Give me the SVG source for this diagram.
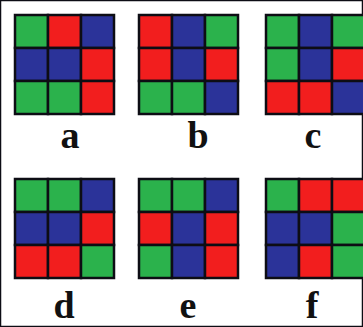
<svg xmlns="http://www.w3.org/2000/svg" width="363" height="327" viewBox="0 0 363 327">
<style>
.g{fill:#2bb24c}.r{fill:#f21e1e}.b{fill:#2b3399}
rect{stroke:#0d0d14;stroke-width:2.5}
text{font-family:"Liberation Serif","Times New Roman",serif;font-weight:bold;font-size:38px;fill:#111;text-anchor:middle}
</style>
<rect width="363" height="327" fill="#fff" stroke="none"/>
<g id="grid-a" transform="translate(15,15)">
<rect class="g" x="0" y="0" width="33" height="33"/><rect class="r" x="33" y="0" width="33" height="33"/><rect class="b" x="66" y="0" width="33" height="33"/>
<rect class="b" x="0" y="33" width="33" height="33"/><rect class="b" x="33" y="33" width="33" height="33"/><rect class="r" x="66" y="33" width="33" height="33"/>
<rect class="g" x="0" y="66" width="33" height="33"/><rect class="g" x="33" y="66" width="33" height="33"/><rect class="r" x="66" y="66" width="33" height="33"/>
</g>
<g id="grid-b" transform="translate(139,15)">
<rect class="r" x="0" y="0" width="33" height="33"/><rect class="b" x="33" y="0" width="33" height="33"/><rect class="g" x="66" y="0" width="33" height="33"/>
<rect class="r" x="0" y="33" width="33" height="33"/><rect class="b" x="33" y="33" width="33" height="33"/><rect class="r" x="66" y="33" width="33" height="33"/>
<rect class="g" x="0" y="66" width="33" height="33"/><rect class="g" x="33" y="66" width="33" height="33"/><rect class="b" x="66" y="66" width="33" height="33"/>
</g>
<g id="grid-c" transform="translate(266,15)">
<rect class="g" x="0" y="0" width="33" height="33"/><rect class="b" x="33" y="0" width="33" height="33"/><rect class="g" x="66" y="0" width="33" height="33"/>
<rect class="g" x="0" y="33" width="33" height="33"/><rect class="b" x="33" y="33" width="33" height="33"/><rect class="r" x="66" y="33" width="33" height="33"/>
<rect class="r" x="0" y="66" width="33" height="33"/><rect class="r" x="33" y="66" width="33" height="33"/><rect class="b" x="66" y="66" width="33" height="33"/>
</g>
<g id="grid-d" transform="translate(15,179)">
<rect class="g" x="0" y="0" width="33" height="33"/><rect class="g" x="33" y="0" width="33" height="33"/><rect class="b" x="66" y="0" width="33" height="33"/>
<rect class="b" x="0" y="33" width="33" height="33"/><rect class="b" x="33" y="33" width="33" height="33"/><rect class="r" x="66" y="33" width="33" height="33"/>
<rect class="r" x="0" y="66" width="33" height="33"/><rect class="r" x="33" y="66" width="33" height="33"/><rect class="g" x="66" y="66" width="33" height="33"/>
</g>
<g id="grid-e" transform="translate(139,179)">
<rect class="g" x="0" y="0" width="33" height="33"/><rect class="g" x="33" y="0" width="33" height="33"/><rect class="b" x="66" y="0" width="33" height="33"/>
<rect class="r" x="0" y="33" width="33" height="33"/><rect class="b" x="33" y="33" width="33" height="33"/><rect class="r" x="66" y="33" width="33" height="33"/>
<rect class="g" x="0" y="66" width="33" height="33"/><rect class="b" x="33" y="66" width="33" height="33"/><rect class="r" x="66" y="66" width="33" height="33"/>
</g>
<g id="grid-f" transform="translate(266,179)">
<rect class="g" x="0" y="0" width="33" height="33"/><rect class="r" x="33" y="0" width="33" height="33"/><rect class="r" x="66" y="0" width="33" height="33"/>
<rect class="b" x="0" y="33" width="33" height="33"/><rect class="b" x="33" y="33" width="33" height="33"/><rect class="g" x="66" y="33" width="33" height="33"/>
<rect class="b" x="0" y="66" width="33" height="33"/><rect class="r" x="33" y="66" width="33" height="33"/><rect class="g" x="66" y="66" width="33" height="33"/>
</g>
<g id="labels">
<text x="70" y="148">a</text>
<text x="198" y="148">b</text>
<text x="313" y="148">c</text>
<text x="64" y="318">d</text>
<text x="188" y="318">e</text>
<text x="312" y="318">f</text>
</g>
</svg>
